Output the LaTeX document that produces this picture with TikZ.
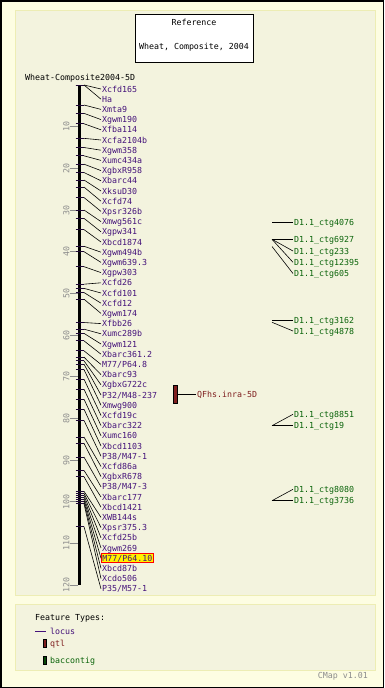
\documentclass[tikz,border=0pt]{standalone}
\usepackage{fontspec}
\newfontfamily\pix{DejaVu Sans Mono}
\definecolor{outerbg}{HTML}{FDFDE2}
\definecolor{panelbg}{HTML}{F3F3DE}
\definecolor{panelbd}{HTML}{EDEDB4}
\definecolor{mcol}{HTML}{44127A}
\definecolor{ccol}{HTML}{0A640A}
\definecolor{qcol}{HTML}{7F1F1F}
\definecolor{gcol}{HTML}{8C8C8C}
\tikzset{
  txt/.style={inner xsep=1pt, inner ysep=0pt, text height=6pt, text depth=0pt, font=\pix\fontsize{8.3}{9}\selectfont},
  lbl/.style={txt, anchor=west},
  mlbl/.style={lbl, text=mcol},
  clbl/.style={lbl, text=ccol},
  conn/.style={draw=black, line width=0.6pt},
  mtick/.style={draw=mcol!45!black, line width=1pt},
  hilite/.style={fill=yellow, draw=red, line width=0.8pt, inner ysep=1.5pt},
  sclbl/.style={txt, text=gcol, rotate=90, anchor=center},
  bar/.style={draw=black, line width=0.5pt, minimum width=3.5pt, inner sep=0pt}
}
\newcommand\mkr[4][]{%
  \coordinate (a#2) at (84,{85+4.167*#3});
  \draw[mtick] (75.5,{85+4.167*#3}) -- (84,{85+4.167*#3});
  \node[mlbl,#1] (l#2) at (101,{89+10.2*#2}) {#4};
  \draw[conn] (a#2) -- (l#2.west);
}
\begin{document}
\begin{tikzpicture}[x=1pt,y=-1pt]
\useasboundingbox (0,0) rectangle (384,688);
\fill[outerbg] (0,0) rectangle (384,688);
\draw[black, line width=1.5pt] (0.75,0.75) rectangle (383.25,687.25);
\filldraw[fill=panelbg, draw=panelbd, line width=1pt] (15,10) rectangle (375,595);
\filldraw[fill=panelbg, draw=panelbd, line width=1pt] (15,604) rectangle (375,670);

% title box
\node[draw=black, fill=white, line width=0.8pt, minimum width=118pt, minimum height=48pt, inner sep=0pt] (title) at (194,38) {};
\node[txt, anchor=center] (t1) at (194,22.5) {Reference};
\node[txt, anchor=center] (t2) at (194,46) {Wheat, Composite, 2004};

\node[lbl, inner xsep=0pt] (mapname) at (25,77) {Wheat-Composite2004-5D};

% axis
\coordinate (axtop) at (79.7,85);
\coordinate (axbot) at (79.7,585);
\draw[black, line width=2.7pt] (axtop) -- (axbot);
\foreach \v in {10,20,...,120}{
  \draw[gcol, line width=0.6pt] (69.5,{85+4.167*\v}) -- (78,{85+4.167*\v});
  \node[sclbl] (s\v) at (66.3,{85+4.167*\v}) {\v};
}

% markers
\mkr{0}{0}{Xcfd165}
\mkr{1}{0}{Ha}
\mkr{2}{4.8}{Xmta9}
\mkr{3}{6.8}{Xgwm190}
\mkr{4}{9.3}{Xfba114}
\mkr{5}{12.8}{Xcfa2104b}
\mkr{6}{15}{Xgwm358}
\mkr{7}{17}{Xumc434a}
\mkr{8}{19}{XgbxR958}
\mkr{9}{21}{Xbarc44}
\mkr{10}{22.8}{XksuD30}
\mkr{11}{24.5}{Xcfd74}
\mkr{12}{27}{Xpsr326b}
\mkr{13}{30}{Xmwg561c}
\mkr{14}{32}{Xgpw341}
\mkr{15}{34.7}{Xbcd1874}
\mkr{16}{38.7}{Xgwm494b}
\mkr{17}{40}{Xgwm639.3}
\mkr{18}{43.6}{Xgpw303}
\mkr{19}{47.8}{Xcfd26}
\mkr{20}{48.8}{Xcfd101}
\mkr{21}{49.8}{Xcfd12}
\mkr{22}{51.4}{Xgwm174}
\mkr{23}{57}{Xfbb26}
\mkr{24}{58.6}{Xumc289b}
\mkr{25}{59.6}{Xgwm121}
\mkr{26}{61.4}{Xbarc361.2}
\mkr{27}{63.8}{M77/P64.8}
\mkr{28}{65.3}{Xbarc93}
\mkr{29}{66.2}{XgbxG722c}
\mkr{30}{67}{P32/M48-237}
\mkr{31}{68.3}{Xmwg900}
\mkr{32}{70.6}{Xcfd19c}
\mkr{33}{73}{Xbarc322}
\mkr{34}{75.4}{Xumc160}
\mkr{35}{77.8}{Xbcd1103}
\mkr{36}{80.5}{P38/M47-1}
\mkr{37}{84.5}{Xcfd86a}
\mkr{38}{86}{XgbxR678}
\mkr{39}{89.3}{P38/M47-3}
\mkr{40}{92.5}{Xbarc177}
\mkr{41}{94}{Xbcd1421}
\mkr{42}{97.5}{XWB144s}
\mkr{43}{98}{Xpsr375.3}
\mkr{44}{98.5}{Xcfd25b}
\mkr{45}{99}{Xgwm269}
\mkr[hilite]{46}{99.5}{M77/P64.10}
\mkr{47}{100}{Xbcd87b}
\mkr{48}{100.5}{Xcdo506}
\mkr{49}{106}{P35/M57-1}

% QTL
\node[bar, fill=qcol, minimum height=18pt] (q) at (175,394) {};
\node[lbl, text=qcol] (ql) at (196,394) {QFhs.inra-5D};
\draw[conn] (q.east) -- (ql.west);

% contigs
\coordinate (c1) at (272,222.7);
\coordinate (c2) at (272,239.3);
\coordinate (c3) at (272,246.5);
\coordinate (c4) at (272,320);
\coordinate (c5) at (272,322.3);
\coordinate (c6) at (272,425.7);
\coordinate (c7) at (272,500.7);
\node[clbl] (k1) at (293,222.7) {D1.1\_ctg4076};
\node[clbl] (k2) at (293,239.3) {D1.1\_ctg6927};
\node[clbl] (k3) at (293,251) {D1.1\_ctg233};
\node[clbl] (k4) at (293,262.3) {D1.1\_ctg12395};
\node[clbl] (k5) at (293,273.5) {D1.1\_ctg605};
\node[clbl] (k6) at (293,320) {D1.1\_ctg3162};
\node[clbl] (k7) at (293,331) {D1.1\_ctg4878};
\node[clbl] (k8) at (293,414.3) {D1.1\_ctg8851};
\node[clbl] (k9) at (293,425.7) {D1.1\_ctg19};
\node[clbl] (k10) at (293,489.3) {D1.1\_ctg8080};
\node[clbl] (k11) at (293,500.7) {D1.1\_ctg3736};
\draw[conn] (c1) -- (k1.west);
\draw[conn] (c2) -- (k2.west);
\draw[conn] (c2) -- (k3.west);
\draw[conn] (c2) -- (k4.west);
\draw[conn] (c3) -- (k5.west);
\draw[conn] (c4) -- (k6.west);
\draw[conn] (c5) -- (k7.west);
\draw[conn] (c6) -- (k8.west);
\draw[conn] (c6) -- (k9.west);
\draw[conn] (c7) -- (k10.west);
\draw[conn] (c7) -- (k11.west);

% legend
\node[lbl, inner xsep=0pt] (lg) at (35,617) {Feature Types:};
\draw[mcol, line width=0.8pt] (35,631.5) -- (46,631.5);
\node[lbl, text=mcol] (lg1) at (49,631.5) {locus};
\node[bar, fill=qcol, minimum height=8pt] (lq) at (44.5,643) {};
\node[lbl, text=qcol] (lg2) at (49,643) {qtl};
\node[bar, fill=ccol!70!black, minimum height=8pt] (lc) at (44.5,660) {};
\node[lbl, text=ccol] (lg3) at (49,660) {baccontig};
\node[txt, anchor=east, text=gcol] (ver) at (369,675) {CMap v1.01};
\end{tikzpicture}
\end{document}
